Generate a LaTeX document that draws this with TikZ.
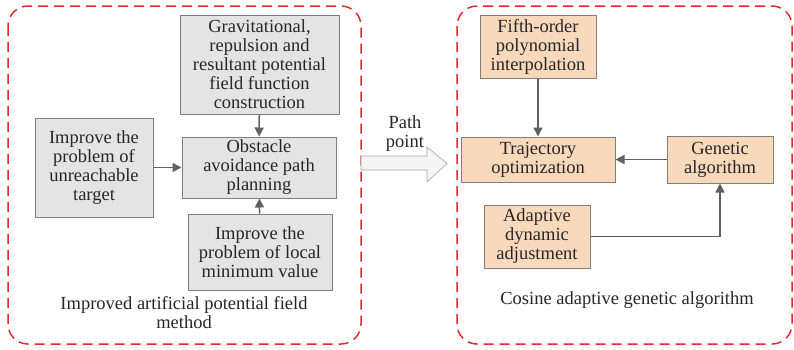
\documentclass[tikz,border=0pt]{standalone}
\usepackage{fontspec}
\setmainfont{Liberation Serif}
\usetikzlibrary{arrows.meta}

\definecolor{boxgray}{HTML}{E4E4E4}
\definecolor{boxpeach}{HTML}{F9D9BC}
\definecolor{edgegray}{HTML}{7F7F7F}
\definecolor{linkgray}{HTML}{606060}
\definecolor{dashred}{HTML}{E8292B}

\tikzset{
	greybox/.style={draw=edgegray, line width=1pt, fill=boxgray, align=center, inner sep=0pt,
		font=\fontsize{18.5}{19}\selectfont, text=black!85},
	peachbox/.style={greybox, fill=boxpeach},
	groupbox/.style={draw=dashred, line width=1.5pt, dash pattern=on 10pt off 6pt, rounded corners=20pt},
	link/.style={draw=linkgray, line width=1.5pt, -{Triangle[length=9pt,width=9pt]}},
	caption/.style={align=center, font=\fontsize{18.5}{19}\selectfont, text=black!85}
}

\begin{document}
\begin{tikzpicture}[x=1pt,y=-1pt]
	\useasboundingbox (0,0) rectangle (794,349);

	% groups
	\draw[groupbox] (8,6) rectangle (361,344);
	\draw[groupbox] (457,6) rectangle (792,344);

	% left: potential field
	\node[greybox, minimum width=159pt, minimum height=99pt] (grav) at (259.5,64.5)
		{Gravitational,\\repulsion and\\resultant potential\\field function\\construction};
	\node[greybox, minimum width=154pt, minimum height=61pt] (obst) at (259,167.5)
		{Obstacle\\avoidance path\\planning};
	\node[greybox, minimum width=118pt, minimum height=99pt] (unreach) at (94,167.5)
		{Improve the\\problem of\\unreachable\\target};
	\node[greybox, minimum width=144pt, minimum height=76pt] (localmin) at (260,252)
		{Improve the\\problem of local\\minimum value};
	\node[caption] (leftcap) at (184,312.5) {Improved artificial potential field\\method};

	\draw[link] (grav) -- (obst);
	\draw[link] (localmin) -- (obst);
	\draw[link] (unreach) -- (obst);

	% path point
	\fill[white!92!gray, draw=edgegray!70, line width=0.6pt]
		(361,156) -- (427,156) -- (427,147) -- (447,163.5) -- (427,182) -- (427,170) -- (361,170) -- cycle;
	\node[caption] (pathpt) at (405,134) {Path\\point};

	% right: genetic algorithm
	\node[peachbox, minimum width=116pt, minimum height=63pt] (fifth) at (538,46.5)
		{Fifth-order\\polynomial\\interpolation};
	\node[peachbox, minimum width=154pt, minimum height=45pt] (traj) at (538,159.5)
		{Trajectory\\optimization};
	\node[peachbox, minimum width=106pt, minimum height=47pt] (genetic) at (720,159.5)
		{Genetic\\algorithm};
	\node[peachbox, minimum width=106pt, minimum height=63pt] (adapt) at (537,236.5)
		{Adaptive\\dynamic\\adjustment};
	\node[caption] (rightcap) at (627,300) {Cosine adaptive genetic algorithm};

	\draw[link] (fifth) -- (traj);
	\draw[link] (genetic) -- (traj);
	\draw[link] (adapt.east) -| (genetic.south);

\end{tikzpicture}
\end{document}
